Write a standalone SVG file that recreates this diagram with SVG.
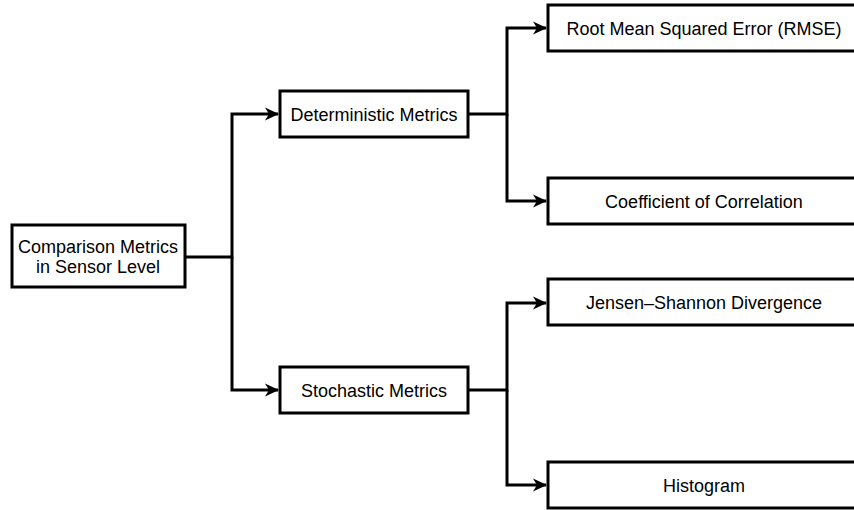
<svg xmlns="http://www.w3.org/2000/svg" width="854" height="510" viewBox="0 0 854 510">
  <defs>
    <marker id="arrow" markerUnits="userSpaceOnUse" markerWidth="14" markerHeight="14" refX="13" refY="7" orient="auto">
      <path d="M0,0.5 L14,7 L0,13.5 L4,7 Z" fill="#000"/>
    </marker>
    <style>
      .box { fill: #fff; stroke: #000; stroke-width: 3; }
      .lbl { font-family: "Liberation Sans", Arial, Helvetica, sans-serif; font-size: 18px; fill: #000; text-anchor: middle; }
      .wire { fill: none; stroke: #000; stroke-width: 3; }
    </style>
  </defs>
  <rect width="854" height="510" fill="#fff"/>

  <g id="connectors">
    <path class="wire" d="M186,257 H232 V114 H278" marker-end="url(#arrow)"/>
    <path class="wire" d="M232,257 V390 H278" marker-end="url(#arrow)"/>
    <path class="wire" d="M469,114 H507 V28 H546" marker-end="url(#arrow)"/>
    <path class="wire" d="M507,114 V201 H546" marker-end="url(#arrow)"/>
    <path class="wire" d="M469,390 H507 V303 H546" marker-end="url(#arrow)"/>
    <path class="wire" d="M507,390 V485 H546" marker-end="url(#arrow)"/>
  </g>

  <g id="root">
    <rect class="box" x="12" y="225" width="173" height="62"/>
    <text class="lbl" x="98" y="252.5">Comparison Metrics</text>
    <text class="lbl" x="98" y="273">in Sensor Level</text>
  </g>

  <g id="deterministic">
    <rect class="box" x="280" y="91" width="188" height="46"/>
    <text class="lbl" x="374" y="120.5">Deterministic Metrics</text>
  </g>

  <g id="stochastic">
    <rect class="box" x="280" y="367" width="188" height="46"/>
    <text class="lbl" x="374" y="396.5">Stochastic Metrics</text>
  </g>

  <g id="rmse">
    <rect class="box" x="548" y="5" width="312" height="46"/>
    <text class="lbl" x="704" y="34.5">Root Mean Squared Error (RMSE)</text>
  </g>

  <g id="correlation">
    <rect class="box" x="548" y="178" width="312" height="46"/>
    <text class="lbl" x="704" y="207.5">Coefficient of Correlation</text>
  </g>

  <g id="jensen-shannon">
    <rect class="box" x="548" y="279" width="312" height="46"/>
    <text class="lbl" x="704" y="308.5">Jensen–Shannon Divergence</text>
  </g>

  <g id="histogram">
    <rect class="box" x="548" y="462" width="312" height="46"/>
    <text class="lbl" x="704" y="491.5">Histogram</text>
  </g>
</svg>
